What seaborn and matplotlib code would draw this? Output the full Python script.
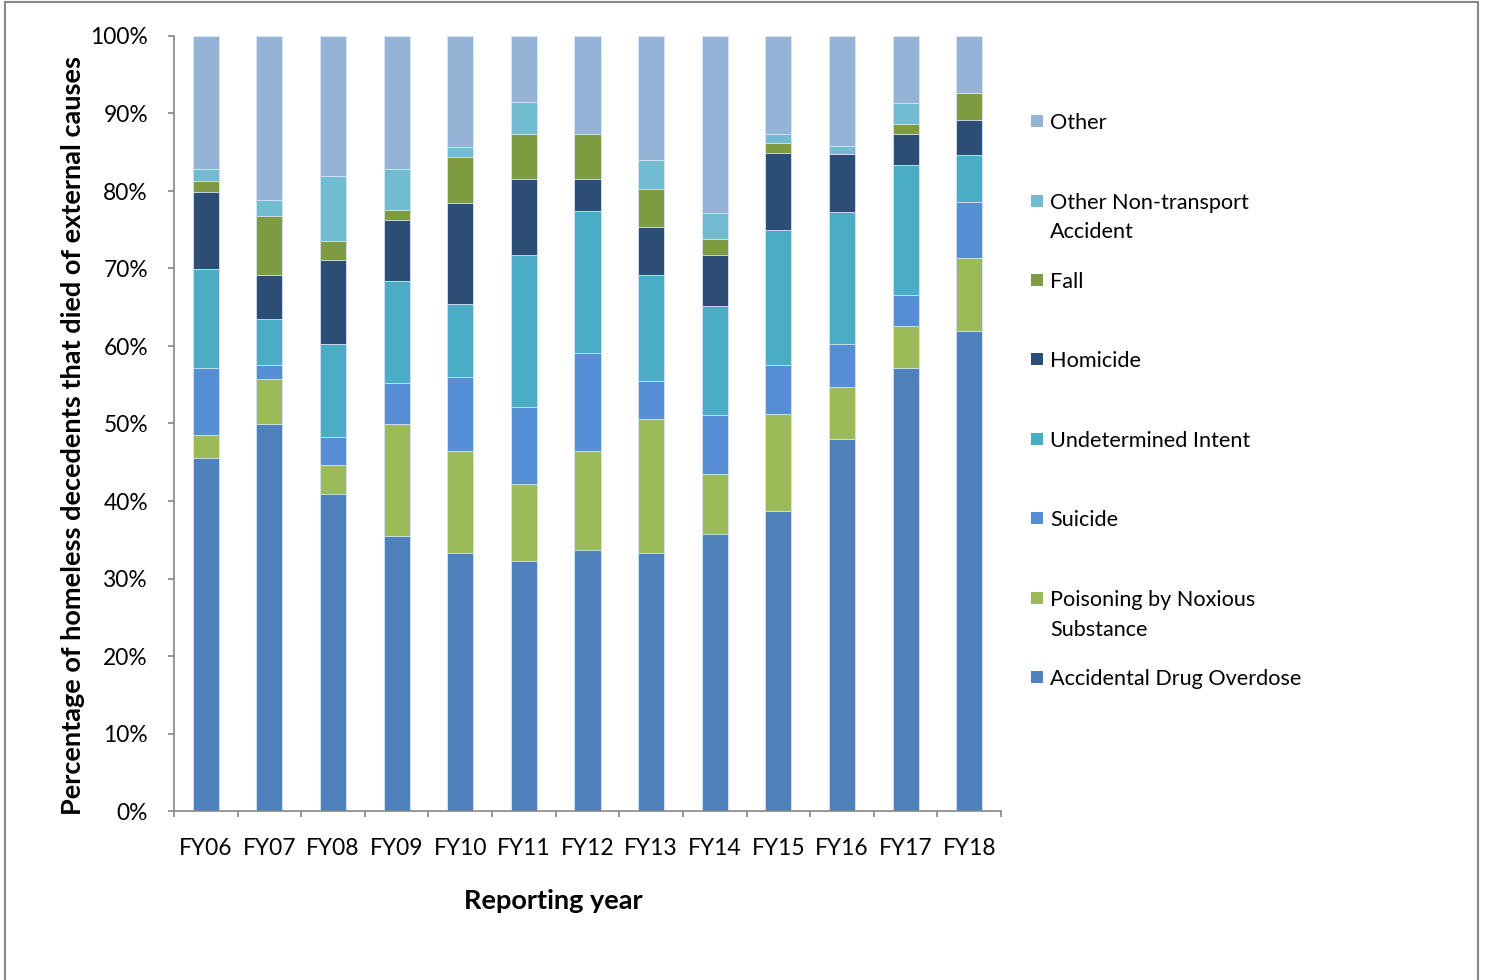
import numpy as np
import pandas as pd
import matplotlib
matplotlib.use("Agg")
import matplotlib.pyplot as plt
from matplotlib.patches import Rectangle
from matplotlib.lines import Line2D
from matplotlib.ticker import FixedLocator, FuncFormatter
import seaborn as sns

years = ["FY06", "FY07", "FY08", "FY09", "FY10", "FY11", "FY12",
         "FY13", "FY14", "FY15", "FY16", "FY17", "FY18"]

# bottom to top
accidental_drug_overdose = [45.6, 49.9, 40.9, 35.5, 33.3, 32.3, 33.7, 33.3, 35.7, 38.7, 48.0, 57.2, 61.9]
poisoning_noxious = [2.9, 5.8, 3.7, 14.4, 13.1, 9.9, 12.8, 17.3, 7.8, 12.5, 6.7, 5.4, 9.4]
suicide = [8.6, 1.9, 3.6, 5.3, 9.6, 9.9, 12.6, 4.9, 7.6, 6.3, 5.6, 4.0, 7.3]
undetermined_intent = [12.8, 5.9, 12.0, 13.2, 9.4, 19.6, 18.3, 13.6, 14.1, 17.5, 17.0, 16.7, 6.0]
homicide = [10.0, 5.7, 10.9, 7.9, 13.1, 9.9, 4.2, 6.2, 6.5, 9.9, 7.5, 4.0, 4.6]
fall = [1.4, 7.6, 2.4, 1.3, 5.9, 5.7, 5.7, 4.9, 2.1, 1.3, 0.0, 1.3, 3.4]
other_non_transport = [1.5, 2.0, 8.4, 5.2, 1.3, 4.2, 0.0, 3.8, 3.3, 1.2, 1.0, 2.7, 0.0]
other = [17.2, 21.2, 18.1, 17.2, 14.3, 8.5, 12.7, 16.0, 22.9, 12.6, 14.2, 8.7, 7.4]

causes = ["Accidental Drug Overdose", "Poisoning by Noxious\nSubstance", "Suicide",
          "Undetermined Intent", "Homicide", "Fall",
          "Other Non-transport\nAccident", "Other"]
series = [accidental_drug_overdose, poisoning_noxious, suicide, undetermined_intent,
          homicide, fall, other_non_transport, other]
colors = ["#4F81BD", "#9BBB59", "#558ED5", "#4BACC6", "#2C4D75", "#7F9B40", "#71BCD0", "#95B3D7"]

vals = np.array(series, dtype=float)
vals = vals / vals.sum(axis=0) * 100.0
cum = np.cumsum(vals, axis=0)

sns.set_theme(style="white")
plt.rcParams["font.family"] = ["Lato", "DejaVu Sans"]

W, H = 1485, 980
fig = plt.figure(figsize=(W / 100, H / 100), dpi=100)
fig.patch.set_facecolor("white")
ax = fig.add_axes([174 / W, 1 - 811 / H, (1001 - 174) / W, (811 - 36) / H])

# draw stacked bars from top layer down (cumulative heights)
for i in range(len(causes) - 1, -1, -1):
    df = pd.DataFrame({"year": years, "value": cum[i]})
    sns.barplot(data=df, x="year", y="value", order=years, color=colors[i],
                saturation=1, width=0.41, ax=ax, edgecolor="#DCE6F2", linewidth=0.6)

ax.set_xlim(-0.5, len(years) - 0.5)
ax.set_ylim(0, 100)
ax.yaxis.set_major_locator(FixedLocator(np.arange(0, 101, 10)))
ax.yaxis.set_major_formatter(FuncFormatter(lambda v, p: f"{int(round(v))}%"))
ax.tick_params(axis="y", which="major", direction="out", length=4.3, width=1.2,
               color="#868686", labelsize=16.4, pad=14.5, left=True, labelcolor="#000000")
ax.xaxis.set_minor_locator(FixedLocator(np.arange(-0.5, len(years), 1.0)))
ax.tick_params(axis="x", which="minor", direction="out", length=4.3, width=1.2,
               color="#868686", bottom=True)
ax.tick_params(axis="x", which="major", length=0, labelsize=16.4, pad=19.5, labelcolor="#000000")

for s in ["top", "right"]:
    ax.spines[s].set_visible(False)
for s in ["left", "bottom"]:
    ax.spines[s].set_color("#868686")
    ax.spines[s].set_linewidth(1.2)
ax.grid(False)

ax.set_xlabel("Reporting year", fontsize=19.5, fontweight="bold", color="#000000")
ax.xaxis.set_label_coords((553 - 174) / 827, (811 - 901) / 775)
ax.xaxis.label.set_va("center")
ax.set_ylabel("Percentage of homeless decedents that died of external causes",
              fontsize=19.5, fontweight="bold", color="#000000")
ax.yaxis.set_label_coords((73 - 174) / 827, (811 - 435) / 775)
ax.yaxis.label.set_va("center")

# legend (Excel style, evenly spaced by first line)
first_line_y = [677, 598, 518, 439, 359, 280, 201, 121]
line_step = 29.5
for i in range(len(causes)):
    yc = first_line_y[i]
    nlines = causes[i].count("\n") + 1
    fig.patches.append(Rectangle((1031 / W, 1 - (yc + 6) / H), 12 / W, 12 / H,
                                 transform=fig.transFigure, facecolor=colors[i],
                                 edgecolor="none"))
    base_y = yc + 8 + line_step * (nlines - 1)
    fig.text(1050 / W, 1 - base_y / H, causes[i], fontsize=15.6, va="baseline", ha="left",
             linespacing=1.6, color="#000000")

# outer frame
frame_kw = dict(transform=fig.transFigure, color="#888888", linewidth=1.5)
fig.add_artist(Line2D([5 / W, 5 / W], [0, 1 - 2 / H], **frame_kw))
fig.add_artist(Line2D([5 / W, 1478 / W], [1 - 2 / H, 1 - 2 / H], **frame_kw))
fig.add_artist(Line2D([1478 / W, 1478 / W], [0, 1 - 2 / H], **frame_kw))

fig.savefig("out.png", dpi=100, facecolor="white")
